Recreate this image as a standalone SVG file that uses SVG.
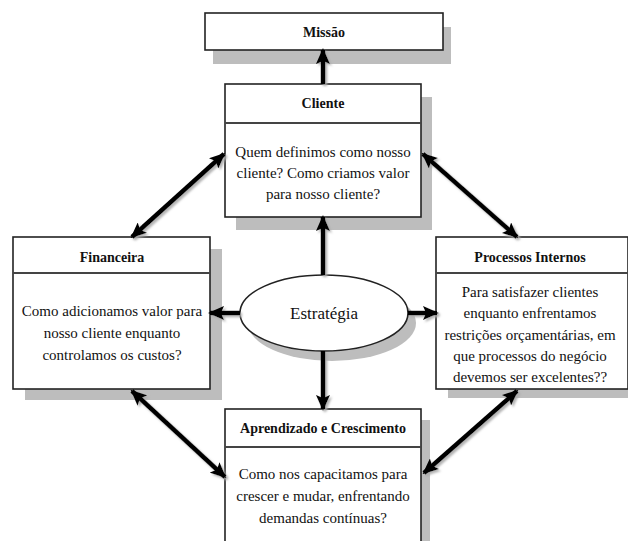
<svg xmlns="http://www.w3.org/2000/svg" width="628" height="541" viewBox="0 0 628 541">
<style>
.box{fill:#fff;stroke:#222;stroke-width:1.6}
.shadow{fill:#bdbdbd}
.div{stroke:#444;stroke-width:2}
.hd{font-family:"Liberation Serif","Times New Roman",serif;font-weight:bold;font-size:14px;fill:#111;text-anchor:middle}
.tx{font-family:"Liberation Serif","Times New Roman",serif;font-size:15px;fill:#111;text-anchor:middle}
.conn line{stroke:#000;stroke-width:4.5}
</style>
<defs>
<marker id="ah" markerUnits="userSpaceOnUse" markerWidth="16" markerHeight="14" refX="14" refY="7" orient="auto-start-reverse" viewBox="0 0 16 14">
<path d="M0,0 L16,7 L0,14 L3,7 Z" fill="#000"/>
</marker>
<filter id="ls" x="-20%" y="-20%" width="140%" height="140%">
<feDropShadow dx="2" dy="2" stdDeviation="0.8" flood-color="#aaa" flood-opacity="0.9"/>
</filter>
</defs>

<g id="missao">
<rect class="shadow" x="213" y="27" width="238" height="37"/>
<rect class="box" x="205" y="13" width="238" height="37"/>
<text class="hd" x="324" y="37">Missão</text>
</g>

<g id="cliente">
<rect class="shadow" x="236" y="97" width="196" height="133"/>
<rect class="box" x="225" y="84" width="196" height="133"/>
<line class="div" x1="225" y1="123" x2="421" y2="123"/>
<text class="hd" x="323" y="108">Cliente</text>
<text class="tx" x="323" y="157">Quem definimos como nosso</text>
<text class="tx" x="323" y="178">cliente? Como criamos valor</text>
<text class="tx" x="323" y="199">para nosso cliente?</text>
</g>

<g id="financeira">
<rect class="shadow" x="25" y="249" width="197" height="151"/>
<rect class="box" x="13" y="237" width="197" height="152"/>
<line class="div" x1="13" y1="273" x2="210" y2="273"/>
<text class="hd" x="112" y="262">Financeira</text>
<text class="tx" x="112" y="316">Como adicionamos valor para</text>
<text class="tx" x="112" y="338">nosso cliente enquanto</text>
<text class="tx" x="112" y="360">controlamos os custos?</text>
</g>

<g id="processos">
<rect class="shadow" x="448" y="249" width="190" height="149"/>
<rect class="box" x="436" y="237" width="192" height="152"/>
<line class="div" x1="436" y1="273" x2="628" y2="273"/>
<text class="hd" x="530" y="262">Processos Internos</text>
<text class="tx" x="530" y="297">Para satisfazer clientes</text>
<text class="tx" x="530" y="318">enquanto enfrentamos</text>
<text class="tx" x="530" y="340">restrições orçamentárias, em</text>
<text class="tx" x="530" y="361">que processos do negócio</text>
<text class="tx" x="530" y="382">devemos ser excelentes??</text>
</g>

<g id="aprendizado">
<rect class="shadow" x="234" y="420" width="196" height="130"/>
<rect class="box" x="225" y="409" width="196" height="140"/>
<line class="div" x1="225" y1="447" x2="421" y2="447"/>
<text class="hd" x="323" y="433">Aprendizado e Crescimento</text>
<text class="tx" x="323" y="479">Como nos capacitamos para</text>
<text class="tx" x="323" y="501">crescer e mudar, enfrentando</text>
<text class="tx" x="323" y="523">demandas contínuas?</text>
</g>

<g id="estrategia">
<ellipse cx="332" cy="323" rx="84" ry="38" fill="#bdbdbd"/>
<ellipse cx="324" cy="313" rx="84" ry="38" fill="#fff" stroke="#222" stroke-width="1.6"/>
<text x="324" y="319" font-family="Liberation Serif, Times New Roman, serif" font-size="17" fill="#111" text-anchor="middle">Estratégia</text>
</g>

<g id="connectors" class="conn" filter="url(#ls)">
<line x1="323" y1="84" x2="323" y2="50" marker-end="url(#ah)"/>
<line x1="323" y1="275" x2="323" y2="217" marker-end="url(#ah)"/>
<line x1="240" y1="313" x2="210" y2="313" marker-end="url(#ah)"/>
<line x1="408" y1="313" x2="437" y2="313" marker-end="url(#ah)"/>
<line x1="323" y1="351" x2="323" y2="409" marker-end="url(#ah)"/>
<line x1="132" y1="237" x2="224" y2="154" marker-start="url(#ah)" marker-end="url(#ah)"/>
<line x1="423" y1="154" x2="517" y2="237" marker-start="url(#ah)" marker-end="url(#ah)"/>
<line x1="132" y1="391" x2="225" y2="477" marker-start="url(#ah)" marker-end="url(#ah)"/>
<line x1="517" y1="391" x2="424" y2="473" marker-start="url(#ah)" marker-end="url(#ah)"/>
</g>
</svg>
